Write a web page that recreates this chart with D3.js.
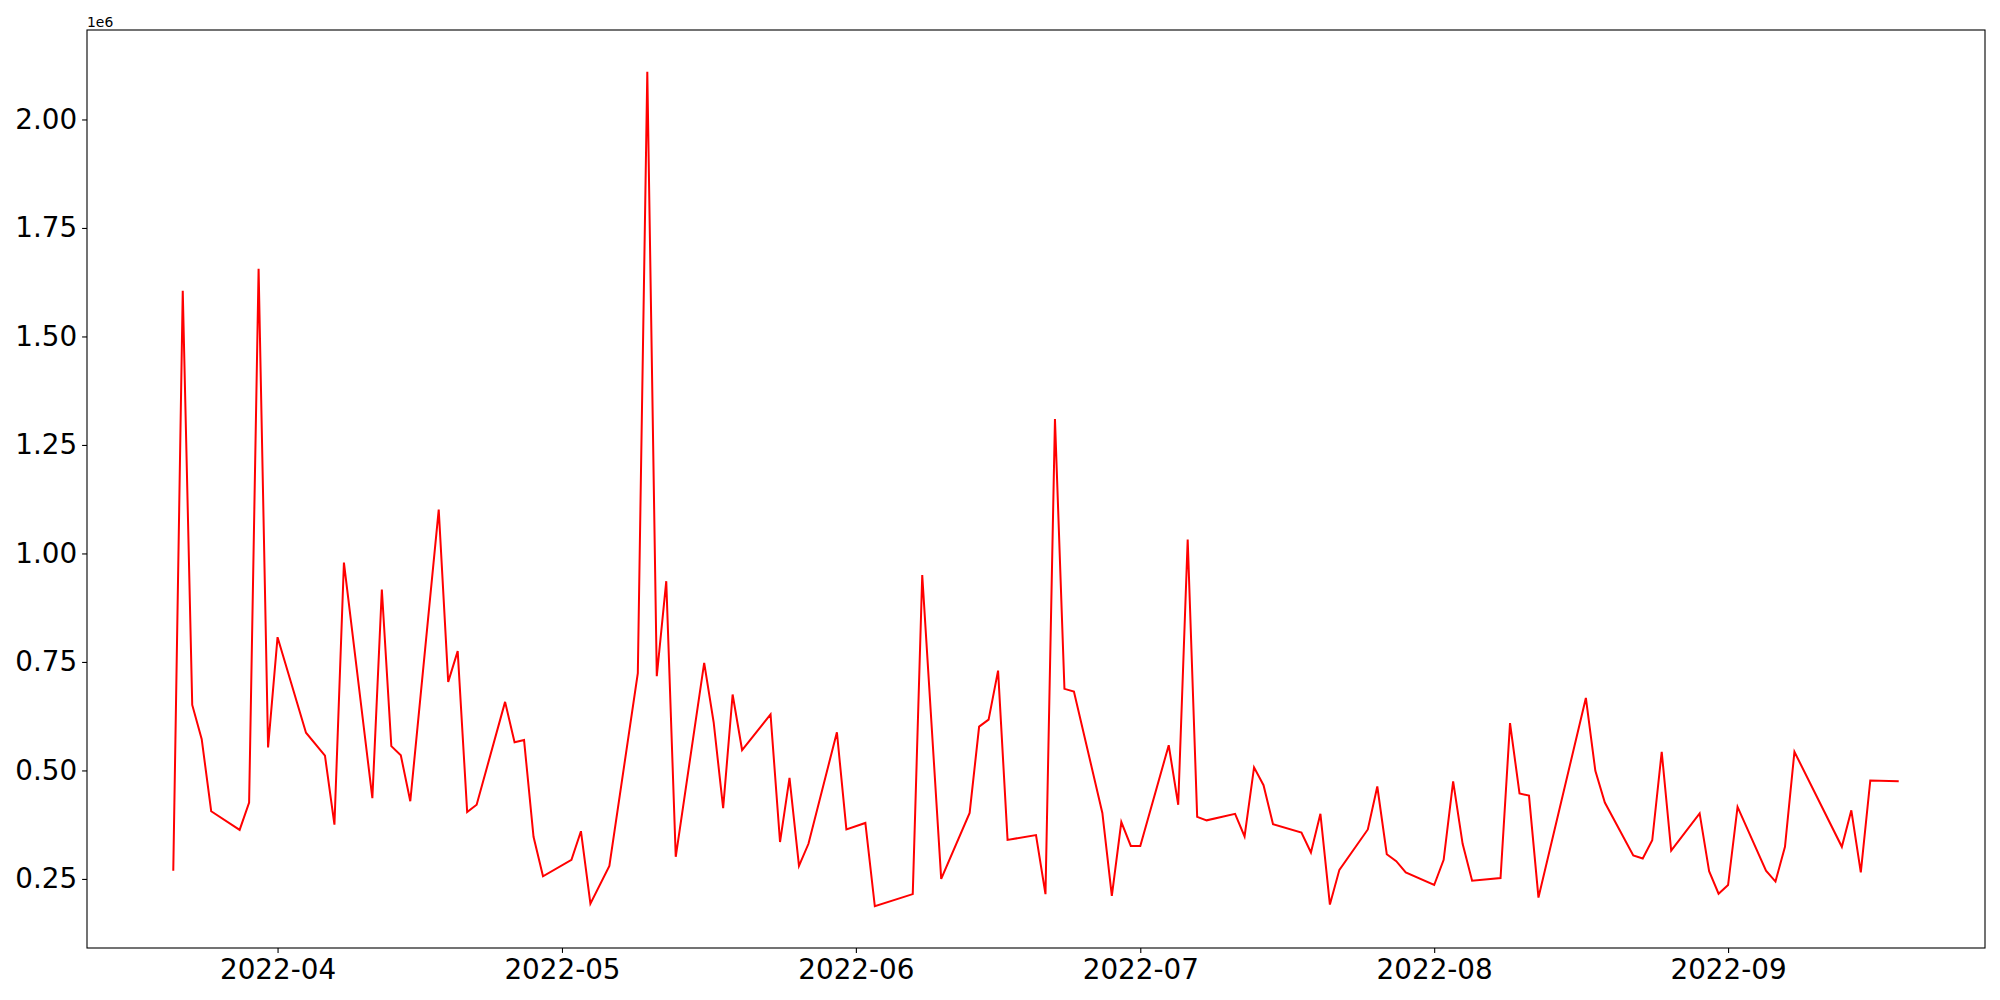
<!DOCTYPE html>
<html>
<head>
<meta charset="utf-8">
<script src="https://cdn.jsdelivr.net/npm/d3@7"></script>
<style>
  body { margin: 0; background: #fff; }
  text { font-family: "DejaVu Sans", sans-serif; fill: #000; }
</style>
</head>
<body>
<div id="chart"></div>
<script>
// daily values
const dates = [
  "2022-03-21","2022-03-22","2022-03-23","2022-03-24","2022-03-25","2022-03-28","2022-03-29","2022-03-30","2022-03-31",
  "2022-04-01","2022-04-04","2022-04-06","2022-04-07","2022-04-08","2022-04-11","2022-04-12","2022-04-13","2022-04-14",
  "2022-04-15","2022-04-18","2022-04-19","2022-04-20","2022-04-21","2022-04-22","2022-04-25","2022-04-26","2022-04-27",
  "2022-04-28","2022-04-29","2022-05-02","2022-05-03","2022-05-04","2022-05-06","2022-05-09","2022-05-10","2022-05-11",
  "2022-05-12","2022-05-13","2022-05-16","2022-05-17","2022-05-18","2022-05-19","2022-05-20","2022-05-23","2022-05-24",
  "2022-05-25","2022-05-26","2022-05-27","2022-05-30","2022-05-31","2022-06-02","2022-06-03","2022-06-07","2022-06-08",
  "2022-06-10","2022-06-13","2022-06-14","2022-06-15","2022-06-16","2022-06-17","2022-06-20","2022-06-21","2022-06-22",
  "2022-06-23","2022-06-24","2022-06-27","2022-06-28","2022-06-29","2022-06-30","2022-07-01","2022-07-04","2022-07-05",
  "2022-07-06","2022-07-07","2022-07-08","2022-07-11","2022-07-12","2022-07-13","2022-07-14","2022-07-15","2022-07-18",
  "2022-07-19","2022-07-20","2022-07-21","2022-07-22","2022-07-25","2022-07-26","2022-07-27","2022-07-28","2022-07-29",
  "2022-08-01","2022-08-02","2022-08-03","2022-08-04","2022-08-05","2022-08-08","2022-08-09","2022-08-10","2022-08-11",
  "2022-08-12","2022-08-17","2022-08-18","2022-08-19","2022-08-22","2022-08-23","2022-08-24","2022-08-25","2022-08-26",
  "2022-08-29","2022-08-30","2022-08-31","2022-09-01","2022-09-02","2022-09-05","2022-09-06","2022-09-07","2022-09-08",
  "2022-09-13","2022-09-14","2022-09-15","2022-09-16","2022-09-19"
];
const values = [
  269000,1605000,651000,572000,406000,363000,426000,1656000,553000,
  807000,587000,534000,375000,979000,436000,917000,556000,535000,
  429000,1101000,704000,775000,404000,421000,658000,565000,570000,
  347000,256000,294000,360000,193000,280000,724000,2110000,717000,
  936000,301000,748000,611000,413000,675000,547000,629000,335000,
  483000,280000,331000,588000,364000,379000,187000,215000,950000,
  250000,402000,601000,617000,730000,340000,351000,215000,1310000,
  688000,682000,402000,211000,381000,326000,326000,558000,421000,
  1032000,393000,385000,400000,348000,507000,466000,376000,357000,
  311000,400000,191000,271000,364000,463000,307000,291000,265000,
  236000,294000,475000,331000,246000,252000,609000,447000,442000,
  207000,667000,499000,426000,304000,297000,339000,543000,315000,
  401000,268000,216000,236000,416000,269000,244000,324000,543000,
  324000,408000,265000,477000,475000
];
const xTickLabels = ["2022-04","2022-05","2022-06","2022-07","2022-08","2022-09"];
const yTickValues = [250000, 500000, 750000, 1000000, 1250000, 1500000, 1750000, 2000000];

const W = 2000, H = 1000;
const margin = {top: 30, right: 15, bottom: 52, left: 87};
const width = W - margin.left - margin.right,
      height = H - margin.top - margin.bottom;

const parse = d3.utcParse("%Y-%m-%d");
const data = dates.map((d, i) => ({date: parse(d), value: values[i]}));

// matplotlib style 5% padding on both axes
const [d0, d1] = d3.extent(data, d => d.date);
const padT = (d1 - d0) * 0.05;
const x = d3.scaleUtc()
  .domain([new Date(+d0 - padT), new Date(+d1 + padT)])
  .range([0, width]);

const [v0, v1] = d3.extent(data, d => d.value);
const padV = (v1 - v0) * 0.05;
const y = d3.scaleLinear()
  .domain([v0 - padV, v1 + padV])
  .range([height, 0]);

const svg = d3.select("#chart")
  .append("svg")
    .attr("width", W)
    .attr("height", H)
  .append("g")
    .attr("transform", `translate(${margin.left},${margin.top})`);

// X axis
const xAxis = svg.append("g")
  .attr("transform", `translate(0,${height})`)
  .call(d3.axisBottom(x)
    .tickValues(xTickLabels.map(s => d3.utcParse("%Y-%m")(s)))
    .tickFormat(d3.utcFormat("%Y-%m"))
    .tickSizeInner(4.9)
    .tickSizeOuter(0)
    .tickPadding(6.5));
xAxis.select(".domain").remove();
xAxis.selectAll(".tick line").attr("stroke", "#000").attr("stroke-width", 1.1);
xAxis.selectAll(".tick text")
  .attr("font-size", "27.8px")
  .attr("font-family", "DejaVu Sans")
  .attr("fill", "#000");

// Y axis
const yAxis = svg.append("g")
  .call(d3.axisLeft(y)
    .tickValues(yTickValues)
    .tickFormat(v => (v / 1e6).toFixed(2))
    .tickSizeInner(4.9)
    .tickSizeOuter(0)
    .tickPadding(4.9));
yAxis.select(".domain").remove();
yAxis.selectAll(".tick line").attr("stroke", "#000").attr("stroke-width", 1.1);
yAxis.selectAll(".tick text")
  .attr("font-size", "27.8px")
  .attr("font-family", "DejaVu Sans")
  .attr("fill", "#000");

// offset text
svg.append("text")
  .attr("x", 0)
  .attr("y", -3)
  .attr("font-size", "13.9px")
  .text("1e6");

// the line
svg.append("path")
  .datum(data)
  .attr("fill", "none")
  .attr("stroke", "#ff0000")
  .attr("stroke-width", 2)
  .attr("stroke-linejoin", "miter")
  .attr("d", d3.line()
    .x(d => x(d.date))
    .y(d => y(d.value)));

// frame
svg.append("rect")
  .attr("width", width)
  .attr("height", height)
  .attr("fill", "none")
  .attr("stroke", "#000")
  .attr("stroke-width", 1.1);
</script>
</body>
</html>
